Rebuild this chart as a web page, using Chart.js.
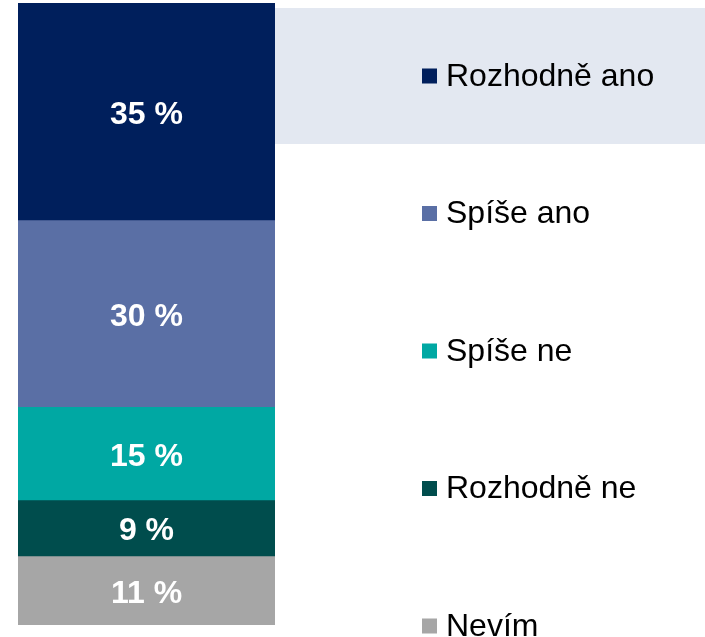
<!DOCTYPE html>
<html>
<head>
<meta charset="utf-8">
<script src="https://cdn.jsdelivr.net/npm/chart.js@4.4.1/dist/chart.umd.min.js"></script>
<style>
  html, body { margin: 0; padding: 0; background: #ffffff; }
  #wrap { width: 705px; height: 637px; position: relative; }
</style>
</head>
<body>
<div id="wrap"><canvas id="c" width="705" height="637"></canvas></div>
<script>
const categories = ["Celkem"];
const seriesNames = ["Rozhodně ano", "Spíše ano", "Spíše ne", "Rozhodně ne", "Nevím"];
const seriesValues = [35, 30, 15, 9, 11];
const seriesColors = ["#001F5C", "#5A6FA5", "#00A8A3", "#004D4D", "#A6A6A6"];
const valueLabels = ["35 %", "30 %", "15 %", "9 %", "11 %"];

// stack from bottom: Nevím at the bottom, Rozhodně ano on top
const order = [4, 3, 2, 1, 0];
const datasets = order.map(i => ({
  label: seriesNames[i],
  data: [seriesValues[i]],
  backgroundColor: seriesColors[i],
  borderWidth: 0,
  barPercentage: 1,
  categoryPercentage: 1,
  _labelText: valueLabels[i],
  _legendIndex: i
}));

const customPlugin = {
  id: 'custom',
  beforeDraw(chart) {
    const ctx = chart.ctx;
    const area = chart.chartArea;
    ctx.save();
    ctx.fillStyle = '#E3E8F1';
    ctx.fillRect(area.right, 8, chart.width - area.right, 136);
    ctx.restore();
  },
  afterDatasetsDraw(chart) {
    const ctx = chart.ctx;
    ctx.save();
    ctx.font = 'bold 32px "Liberation Sans", Arial, sans-serif';
    ctx.fillStyle = '#ffffff';
    ctx.textAlign = 'center';
    ctx.textBaseline = 'middle';
    chart.data.datasets.forEach((ds, di) => {
      const meta = chart.getDatasetMeta(di);
      meta.data.forEach(el => {
        const cy = (el.y + el.base) / 2;
        ctx.fillText(ds._labelText, el.x, cy + 3);
      });
    });
    // legend
    ctx.font = '32px "Liberation Sans", Arial, sans-serif';
    ctx.textAlign = 'left';
    const items = chart.data.datasets.slice().sort((a, b) => a._legendIndex - b._legendIndex);
    items.forEach((ds, k) => {
      const cy = 76 + k * 137.5;
      ctx.fillStyle = ds.backgroundColor;
      ctx.fillRect(422, cy - 7.5, 15, 15);
      ctx.fillStyle = '#000000';
      ctx.fillText(ds.label, 446, cy + 1);
    });
    ctx.restore();
  }
};

new Chart(document.getElementById('c'), {
  type: 'bar',
  data: { labels: categories, datasets: datasets },
  options: {
    responsive: false,
    animation: false,
    layout: { padding: { left: 18, right: 430, top: 3, bottom: 12 } },
    scales: {
      x: { stacked: true, display: false },
      y: { stacked: true, display: false, min: 0, max: 100 }
    },
    plugins: { legend: { display: false }, tooltip: { enabled: false } }
  },
  plugins: [customPlugin]
});
</script>
</body>
</html>
